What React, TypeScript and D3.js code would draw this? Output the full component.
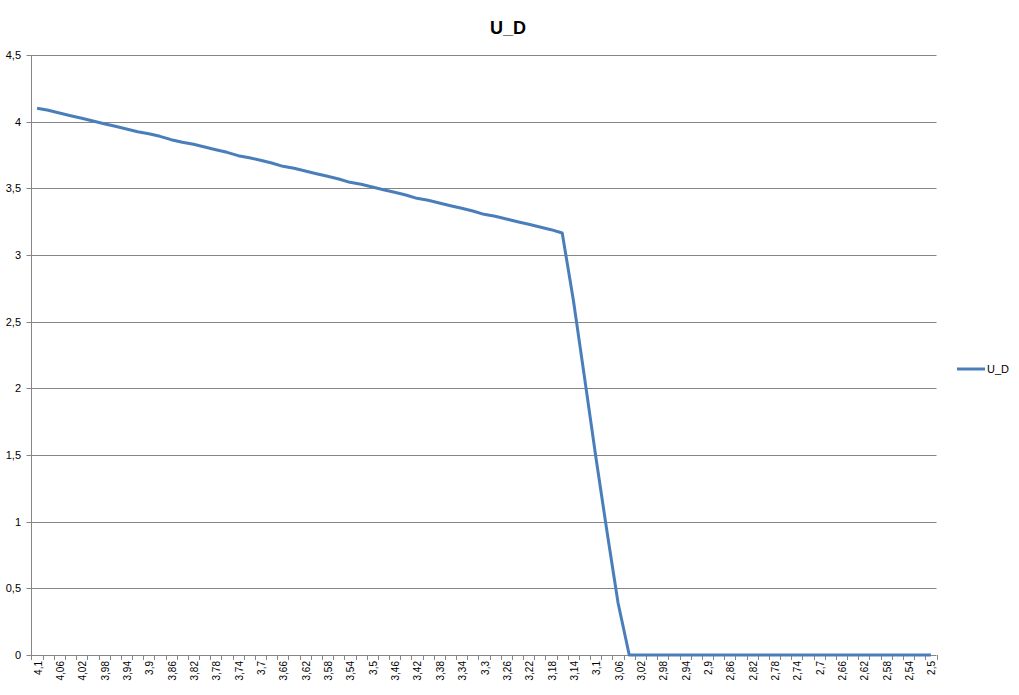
import React from "react";
import * as d3 from "d3";

const categories: number[] = [
  4.1, 4.08, 4.06, 4.04, 4.02, 4.0, 3.98, 3.96, 3.94, 3.92,
  3.9, 3.88, 3.86, 3.84, 3.82, 3.8, 3.78, 3.76, 3.74, 3.72,
  3.7, 3.68, 3.66, 3.64, 3.62, 3.6, 3.58, 3.56, 3.54, 3.52,
  3.5, 3.48, 3.46, 3.44, 3.42, 3.4, 3.38, 3.36, 3.34, 3.32,
  3.3, 3.28, 3.26, 3.24, 3.22, 3.2, 3.18, 3.16, 3.14, 3.12,
  3.1, 3.08, 3.06, 3.04, 3.02, 3.0, 2.98, 2.96, 2.94, 2.92,
  2.9, 2.88, 2.86, 2.84, 2.82, 2.8, 2.78, 2.76, 2.74, 2.72,
  2.7, 2.68, 2.66, 2.64, 2.62, 2.6, 2.58, 2.56, 2.54, 2.52,
  2.5,
];

const uD: number[] = [
  4.1, 4.085, 4.065, 4.045, 4.025, 4.005, 3.985, 3.965, 3.945, 3.925,
  3.91, 3.89, 3.865, 3.845, 3.83, 3.81, 3.79, 3.77, 3.745, 3.73,
  3.71, 3.69, 3.665, 3.65, 3.63, 3.61, 3.59, 3.57, 3.545, 3.53,
  3.51, 3.49, 3.47, 3.45, 3.425, 3.41, 3.39, 3.37, 3.35, 3.33,
  3.305, 3.29, 3.27, 3.25, 3.23, 3.21, 3.19, 3.165, 2.66, 2.08,
  1.49, 0.93, 0.39, 0, 0, 0, 0, 0, 0, 0,
  0, 0, 0, 0, 0, 0, 0, 0, 0, 0,
  0, 0, 0, 0, 0, 0, 0, 0, 0, 0,
  0,
];

const yTicks: number[] = [0, 0.5, 1, 1.5, 2, 2.5, 3, 3.5, 4, 4.5];
const seriesName = "U_D";
const title = "U_D";

const W = 1019;
const H = 695;
const left = 31.5;
const right = 936.5;
const top = 55;
const bottom = 655;
const FONT = "'Liberation Sans', Arial, sans-serif";
const LINE = "#4A7EBB";
const GRID = "#868686";

const fmt = (v: number) => String(v).replace(".", ",");

export default function App() {
  const idx = categories.map((_, i) => i);
  const x = d3.scaleBand<number>().domain(idx).range([left, right]).padding(0);
  const y = d3.scaleLinear().domain([0, 4.5]).range([bottom, top]);
  const cx = (i: number) => (x(i) as number) + x.bandwidth() / 2;

  const line = d3
    .line<number>()
    .x((_, i) => cx(i))
    .y((d) => y(d));

  return (
    <svg
      width={W}
      height={H}
      style={{ position: "absolute", left: 0, top: 0, background: "#fff" }}
      fontFamily={FONT}
    >
      <text x={508} y={34} textAnchor="middle" fontSize={18} fontWeight="bold" fill="#000">
        {title}
      </text>

      {yTicks.map((t) => (
        <g key={t}>
          {t > 0 && (
            <line x1={left} x2={right} y1={Math.round(y(t)) + 0.5} y2={Math.round(y(t)) + 0.5} stroke={GRID} strokeWidth={1} />
          )}
          <line x1={left - 5} x2={left} y1={Math.round(y(t)) + 0.5} y2={Math.round(y(t)) + 0.5} stroke={GRID} strokeWidth={1} />
          <text x={21} y={y(t)} textAnchor="end" dominantBaseline="central" fontSize={11} fill="#000">
            {fmt(t)}
          </text>
        </g>
      ))}

      <line x1={left} x2={left} y1={top} y2={bottom + 0.5} stroke={GRID} strokeWidth={1} />
      <line x1={left} x2={right} y1={bottom + 0.5} y2={bottom + 0.5} stroke={GRID} strokeWidth={1} />

      {idx.concat([categories.length]).map((i) => {
        const xx = i < categories.length ? (x(i) as number) : right;
        const px = Math.round(xx) + 0.5;
        return <line key={"t" + i} x1={px} x2={px} y1={bottom} y2={bottom + 5} stroke={GRID} strokeWidth={1} />;
      })}

      {categories.map((c, i) =>
        i % 2 === 0 ? (
          <text
            key={"l" + i}
            transform={`translate(${cx(i) + 1},${661}) rotate(-90)`}
            textAnchor="end"
            dominantBaseline="central"
            fontSize={10}
            fill="#000"
          >
            {fmt(c)}
          </text>
        ) : null
      )}

      <path d={line(uD) || ""} fill="none" stroke={LINE} strokeWidth={3} strokeLinejoin="round" />

      <line x1={957} x2={985} y1={369} y2={369} stroke={LINE} strokeWidth={3} />
      <text x={987} y={369} dominantBaseline="central" fontSize={11} fill="#000">
        {seriesName}
      </text>
    </svg>
  );
}
